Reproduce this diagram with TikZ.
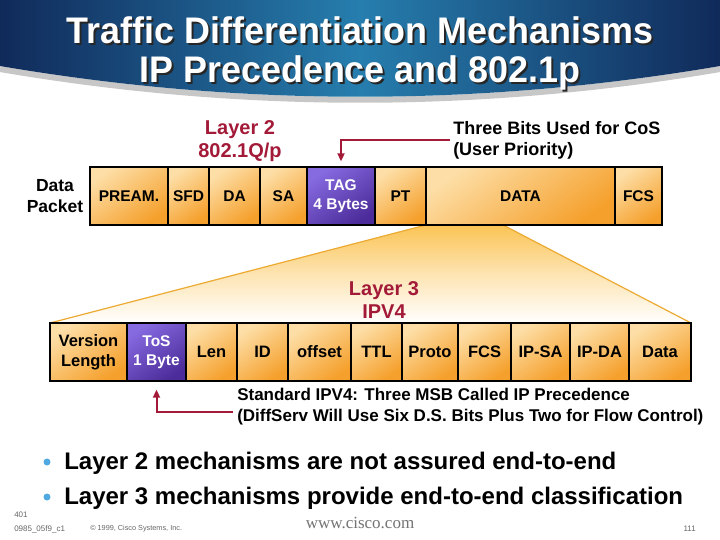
\documentclass[tikz,border=0pt]{standalone}
\usepackage{fontspec}
\setmainfont{Liberation Sans}
\newfontfamily\webfont{Liberation Serif}
\usetikzlibrary{arrows.meta}

\definecolor{celltop}{RGB}{253,222,166}
\definecolor{cellbot}{RGB}{245,160,44}
\definecolor{tagtop}{RGB}{134,106,224}
\definecolor{tagbot}{RGB}{76,44,154}
\definecolor{lblred}{RGB}{162,26,56}
\definecolor{funtop}{RGB}{251,196,84}
\definecolor{funmid}{RGB}{253,228,178}
\definecolor{funedge}{RGB}{236,170,50}
\definecolor{bannerdark}{RGB}{16,42,90}
\definecolor{bannerlight}{RGB}{38,126,174}
\definecolor{bulletblue}{RGB}{80,170,225}

\tikzset{every picture/.style={line width=1pt}}
\tikzset{
  cell/.style={draw=black, line width=1.4pt, minimum height=58pt, inner sep=0pt, align=center,
    font=\fontsize{15.5}{19}\selectfont\bfseries, top color=celltop, bottom color=cellbot, shading angle=35},
  tagcell/.style={cell, top color=tagtop, bottom color=tagbot, shading angle=35, text=white},
  ipcell/.style={cell, font=\fontsize{16.5}{20}\selectfont\bfseries},
  redlbl/.style={text=lblred, align=center, inner sep=0.75pt, font=\fontsize{20}{22.5}\selectfont\bfseries},
  note/.style={align=left, inner sep=0.75pt, font=\fontsize{17}{21}\selectfont\bfseries},
  titletext/.style={text=white, align=center, inner sep=0pt, font=\fontsize{37}{39}\selectfont\bfseries},
  point/.style={anchor=west, inner sep=0.75pt, font=\fontsize{24}{27}\selectfont\bfseries},
  footnote/.style={text=black!60, inner sep=0.75pt, font=\fontsize{8}{9}\selectfont},
  pointer/.style={draw=lblred, line width=2pt, -{Triangle[length=8pt,width=7pt]}}
}

\begin{document}
\begin{tikzpicture}[x=1pt,y=1pt,yscale=-1,xscale=1]
\useasboundingbox (0,0) rectangle (720,540);

%Shape: Banner
\draw [draw=black!22, line width=6pt] (0,69) .. controls (240,110) and (480,110) .. (720,69) ;
\shade [left color=bannerdark, right color=bannerdark, middle color=bannerlight] (0,0) -- (720,0) -- (720,66) .. controls (480,107) and (240,107) .. (0,66) -- cycle ;

% Title
\node (titleshade) [titletext, text=black!85] at (362,55) {\scalebox{0.97}[1]{Traffic Differentiation Mechanisms}\\\scalebox{0.97}[1]{IP Precedence and 802.1p}};
\node (title) [titletext] at (360,53) {\scalebox{0.97}[1]{Traffic Differentiation Mechanisms}\\\scalebox{0.97}[1]{IP Precedence and 802.1p}};

%Shape: Funnel
\coordinate (funtl) at (426,225);
\coordinate (funtr) at (503,225);
\coordinate (funbr) at (691,323);
\coordinate (funbl) at (50,323);
\shade [top color=funtop, bottom color=white, middle color=funmid] (funtl) -- (funtr) -- (funbr) -- (funbl) -- cycle ;
\draw [draw=funedge, line width=1.2pt] (funbl) -- (funtl) ;
\draw [draw=funedge, line width=1.2pt] (funtr) -- (funbr) ;

% Layer 2 frame
\node (pream) [cell, minimum width=78pt] at (129,196) {PREAM.};
\node (sfd) [cell, minimum width=41pt] at (188.5,196) {SFD};
\node (da) [cell, minimum width=51pt] at (234.5,196) {DA};
\node (sa) [cell, minimum width=47pt] at (283.5,196) {SA};
\node (tag) [tagcell, minimum width=68pt] at (341,196) {TAG\\4 Bytes};
\node (pt) [cell, minimum width=51pt] at (400.5,196) {PT};
\node (data) [cell, minimum width=189pt] at (520.5,196) {DATA};
\node (fcs) [cell, minimum width=47pt] at (638.5,196) {FCS};

% Layer 3 header
\node (ver) [ipcell, minimum width=77pt] at (88.5,352) {Version\\Length};
\node (tos) [tagcell, minimum width=59pt] at (156.5,352) {ToS\\1 Byte};
\node (len) [ipcell, minimum width=51pt] at (211.5,352) {Len};
\node (id) [ipcell, minimum width=51pt] at (262.5,352) {ID};
\node (offset) [ipcell, minimum width=63pt] at (319.5,352) {offset};
\node (ttl) [ipcell, minimum width=51pt] at (376.5,352) {TTL};
\node (proto) [ipcell, minimum width=56pt] at (430,352) {Proto};
\node (ipfcs) [ipcell, minimum width=53pt] at (484.5,352) {FCS};
\node (ipsa) [ipcell, minimum width=59pt] at (540.5,352) {IP-SA};
\node (ipda) [ipcell, minimum width=59pt] at (599.5,352) {IP-DA};
\node (ipdata) [ipcell, minimum width=62pt] at (660,352) {Data};

% Text Node
\node (packet) [note, align=center, font=\fontsize{17.5}{21}\selectfont\bfseries] at (55,196) {Data\\Packet};
% Text Node
\node (l2) [redlbl] at (240,141) {Layer 2\\802.1Q/p};
% Text Node
\node (l3) [redlbl] at (384,300) {Layer 3\\IPV4};
% Text Node
\node (bits) [note, anchor=west, font=\fontsize{18}{21}\selectfont\bfseries] at (452,140) {Three Bits Used for CoS\\(User Priority)};
% Text Node
\node (std) [note, anchor=west] at (236,407) {Standard IPV4: Three MSB Called IP Precedence\\(DiffServ Will Use Six D.S. Bits Plus Two for Flow Control)};

% Pointers
\draw [pointer, shorten >=5pt] ([xshift=-2pt]bits.west) -| (tag.north) ;
\draw [pointer, shorten >=8pt] ([xshift=-3pt,yshift=5pt]std.west) -| (tos.south) ;

% Bullets
\fill [bulletblue] (47,462) circle (3.5) ;
\node (pt1) [point] at (63,463) {Layer 2 mechanisms are not assured end-to-end};
\fill [bulletblue] (47,497) circle (3.5) ;
\node (pt2) [point] at (63,498) {Layer 3 mechanisms provide end-to-end classification};

% Footer
\node (deck) [footnote, anchor=west] at (13,515) {401};
\node (code) [footnote, anchor=west] at (13,529) {0985\_05f9\_c1};
\node (copy) [footnote, anchor=west, font=\fontsize{7.3}{8}\selectfont] at (89,529) {\textcopyright{} 1999, Cisco Systems, Inc.};
\node (web) [text=black!55, inner sep=0.75pt, font=\webfont\fontsize{17}{18}\selectfont] at (360,523) {www.cisco.com};
\node (page) [footnote, anchor=east] at (697,529) {111};

\end{tikzpicture}
\end{document}
